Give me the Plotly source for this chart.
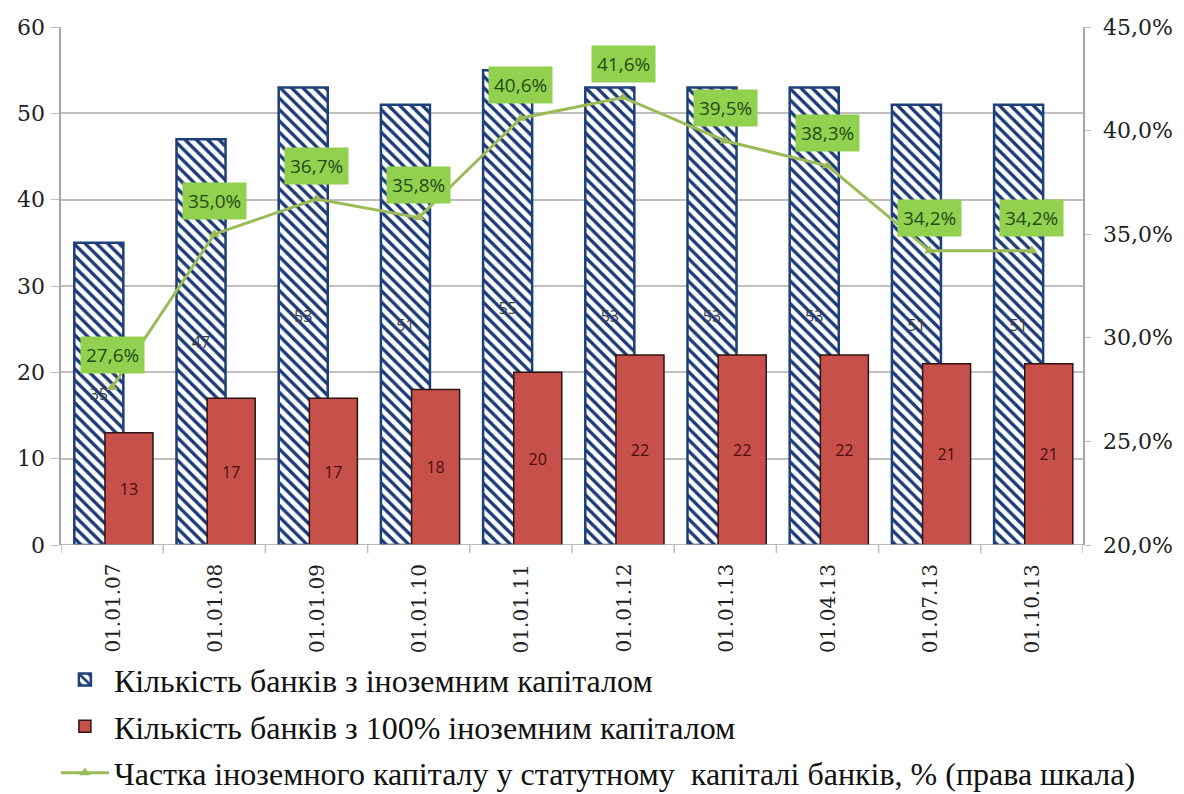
import plotly.graph_objects as go
import plotly.io as pio

pio.templates.default = "none"

dates = ["01.01.07", "01.01.08", "01.01.09", "01.01.10", "01.01.11",
         "01.01.12", "01.01.13", "01.04.13", "01.07.13", "01.10.13"]
banks_foreign = [35, 47, 53, 51, 55, 53, 53, 53, 51, 51]
banks_full_foreign = [13, 17, 17, 18, 20, 22, 22, 22, 21, 21]
capital_share = [27.6, 35.0, 36.7, 35.8, 40.6, 41.6, 39.5, 38.3, 34.2, 34.2]
count_ticks = [0, 10, 20, 30, 40, 50, 60]
share_ticks = [20, 25, 30, 35, 40, 45]

name_foreign = "Кількість банків з іноземним капіталом"
name_full = "Кількість банків з 100% іноземним капіталом"
name_share = "Частка іноземного капіталу у статутному  капіталі банків, % (права шкала)"

serif = "Liberation Serif"
tick_serif = "DejaVu Serif"
sans = "Open Sans"
tick_color = "#222222"

x_idx = list(range(len(dates)))

fig = go.Figure()

fig.add_trace(go.Bar(
    x=x_idx, y=banks_foreign, name=name_foreign,
    offset=-0.37, width=0.48,
    marker=dict(color="white",
                line=dict(color="#1F3F7A", width=2.5),
                pattern=dict(shape="\\", fgcolor="#1C3A75", bgcolor="white",
                             size=8, solidity=0.42)),
    text=[str(v) for v in banks_foreign], textposition="inside",
    insidetextanchor="middle", textangle=0, constraintext="none",
    textfont=dict(family=sans, size=16, color="#3c3c48"),
    legendgroup="a",
))

fig.add_trace(go.Bar(
    x=x_idx, y=banks_full_foreign, name=name_full,
    offset=-0.07, width=0.47,
    marker=dict(color="#C8504B", line=dict(color="#2a1414", width=1.5)),
    text=[str(v) for v in banks_full_foreign], textposition="inside",
    insidetextanchor="middle", textangle=0, constraintext="none",
    textfont=dict(family=sans, size=16, color="#4a0d0d"),
    legendgroup="b",
))

fig.add_trace(go.Scatter(
    x=x_idx, y=capital_share, name=name_share, yaxis="y2",
    mode="lines+markers",
    line=dict(color="#9BBB59", width=3),
    marker=dict(symbol="triangle-up", size=10, color="#9BBB59"),
    legendgroup="c",
))

# value boxes above the line points
for xi, v in zip(x_idx, capital_share):
    fig.add_annotation(
        x=xi, y=v, yref="y2", xref="x",
        text=f"{v:.1f}%".replace(".", ","),
        showarrow=False, yshift=33,
        bgcolor="#92D050", borderpad=5,
        font=dict(family=sans, size=19, color="#1E4D12"),
    )

# serif tick labels
for xi, d in zip(x_idx, dates):
    fig.add_annotation(
        x=xi, y=0, xref="x", yref="paper", text=d, showarrow=False,
        textangle=-90, yanchor="top", xanchor="center", yshift=-17,
        font=dict(family=tick_serif, size=20, color=tick_color),
    )
for t in count_ticks:
    fig.add_annotation(
        x=0, y=t, xref="paper", yref="y", text=str(t), showarrow=False,
        xanchor="right", yanchor="middle", xshift=-14,
        font=dict(family=tick_serif, size=22, color=tick_color),
    )
for t in share_ticks:
    fig.add_annotation(
        x=1, y=t, xref="paper", yref="y2",
        text=f"{t:.1f}%".replace(".", ","), showarrow=False,
        xanchor="left", yanchor="middle", xshift=18,
        font=dict(family=tick_serif, size=22, color=tick_color),
    )

fig.update_layout(
    width=1184, height=794,
    margin=dict(l=61, r=101, t=27, b=249, autoexpand=False),
    paper_bgcolor="white", plot_bgcolor="white",
    barmode="overlay",
    showlegend=True,
    font=dict(family=serif, color=tick_color),
    legend=dict(
        orientation="v", x=-0.005, xanchor="left", y=-0.207, yanchor="top",
        font=dict(family=serif, size=32, color="#111111"),
        traceorder="grouped", tracegroupgap=2, itemwidth=48,
        bgcolor="rgba(0,0,0,0)",
    ),
    xaxis=dict(
        tickmode="array", tickvals=x_idx, showticklabels=False,
        range=[-0.5, len(dates) - 0.5],
        showgrid=False, showline=False, zeroline=False, ticks="",
    ),
    yaxis=dict(
        range=[0, 60], tickvals=count_ticks, showticklabels=False,
        showgrid=True, gridcolor="#BFBFBF", gridwidth=1.5,
        showline=True, linecolor="#A6A6A6", linewidth=1.5,
        ticks="outside", ticklen=8, tickcolor="#BFBFBF",
        zeroline=False,
    ),
    yaxis2=dict(
        overlaying="y", side="right",
        range=[20, 45], tickvals=share_ticks, showticklabels=False,
        showgrid=False, showline=True, linecolor="#A6A6A6", linewidth=1.5,
        ticks="outside", ticklen=6, tickcolor="#BFBFBF",
        zeroline=False,
    ),
)

# category separator ticks below the baseline
for b in range(len(dates) + 1):
    fig.add_shape(type="line", xref="x", yref="paper",
                  x0=b - 0.5, x1=b - 0.5, y0=0, y1=-0.016,
                  line=dict(color="#BFBFBF", width=1.5))
fig.add_shape(type="line", xref="paper", yref="y", x0=0, x1=1, y0=0, y1=0,
              line=dict(color="#A6A6A6", width=1.5), layer="above")

fig.write_html("out.html")
